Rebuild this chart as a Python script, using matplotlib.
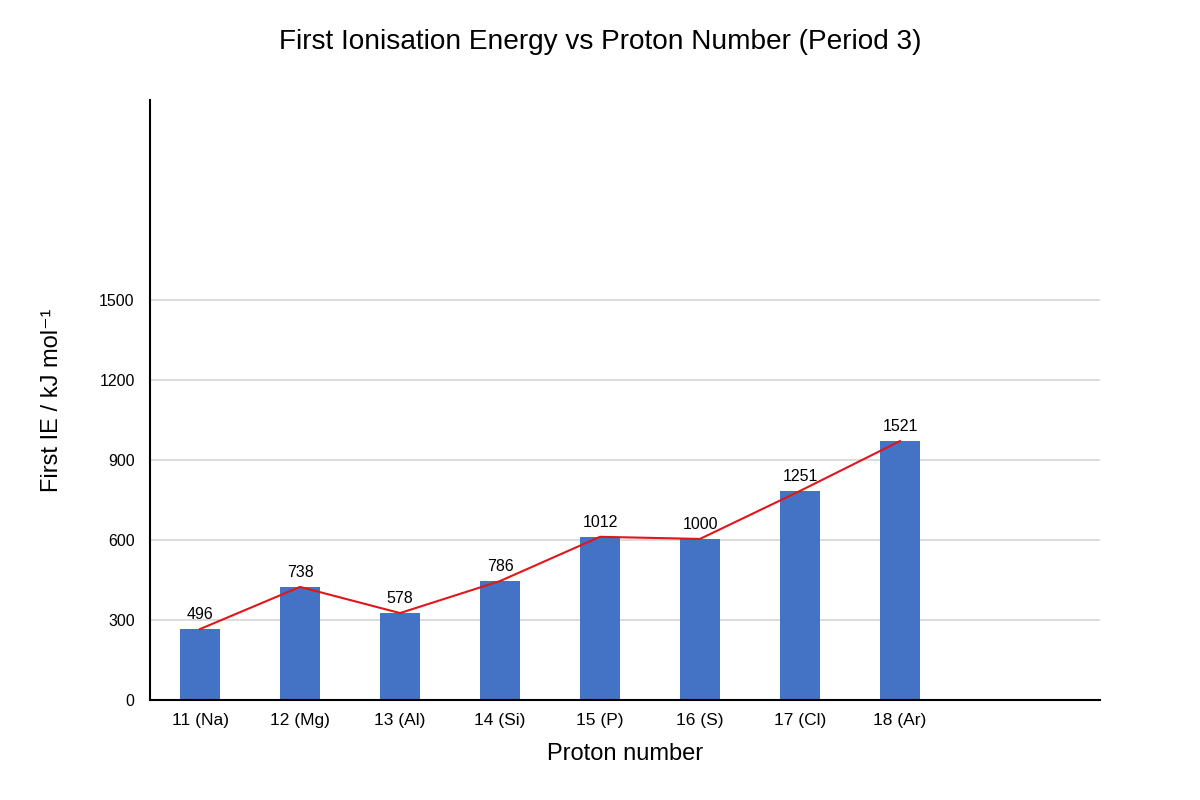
import matplotlib
matplotlib.use("Agg")
import matplotlib.pyplot as plt
import numpy as np

plt.rcParams['font.family'] = ['Liberation Sans', 'DejaVu Sans']

categories = ["11 (Na)", "12 (Mg)", "13 (Al)", "14 (Si)", "15 (P)", "16 (S)", "17 (Cl)", "18 (Ar)"]
# bar heights as drawn against the y axis
bar_heights = [266, 424, 326, 446, 612, 604, 784, 971]
# value labels shown above the bars
ie_labels = [496, 738, 578, 786, 1012, 1000, 1251, 1521]
y_ticks = [0, 300, 600, 900, 1200, 1500]

fig = plt.figure(figsize=(12, 8), dpi=100)
ax = fig.add_axes([150/1200, 100/800, 950/1200, 600/800])

x = np.arange(len(categories))
ax.bar(x, bar_heights, width=0.4, color="#4472c4", zorder=2)
ax.plot(x, bar_heights, color="#e0161b", linewidth=1.5, zorder=3)
for xi, h, lab in zip(x, bar_heights, ie_labels):
    ax.annotate(str(lab), (xi, h), xytext=(0, 5), textcoords="offset points",
                ha="center", va="bottom", fontsize=11.5, color="#000000")

ax.set_xlim(-0.5, 9.0)
ax.set_ylim(0, 2250)
ax.set_xticks(x)
ax.set_xticklabels(categories, fontsize=12.5)
ax.set_yticks(y_ticks)
ax.set_yticklabels([str(t) for t in y_ticks], fontsize=11.5)
ax.tick_params(axis="x", length=0, pad=9)
ax.tick_params(axis="y", length=0, pad=11)
ax.yaxis.grid(True, color="#d9d9d9", linewidth=1.3, zorder=0)
ax.set_axisbelow(True)

for s in ["top", "right"]:
    ax.spines[s].set_visible(False)
for s in ["left", "bottom"]:
    ax.spines[s].set_color("#000000")
    ax.spines[s].set_linewidth(1.5)

ax.set_xlabel("Proton number", fontsize=17, labelpad=11)
ax.set_ylabel("First IE / kJ mol\u207b\u00b9", fontsize=17, labelpad=26)
fig.text(0.5, 1 - 42/800, "First Ionisation Energy vs Proton Number (Period 3)",
         ha="center", va="center", fontsize=20.2)

fig.savefig("out.png", dpi=100)
